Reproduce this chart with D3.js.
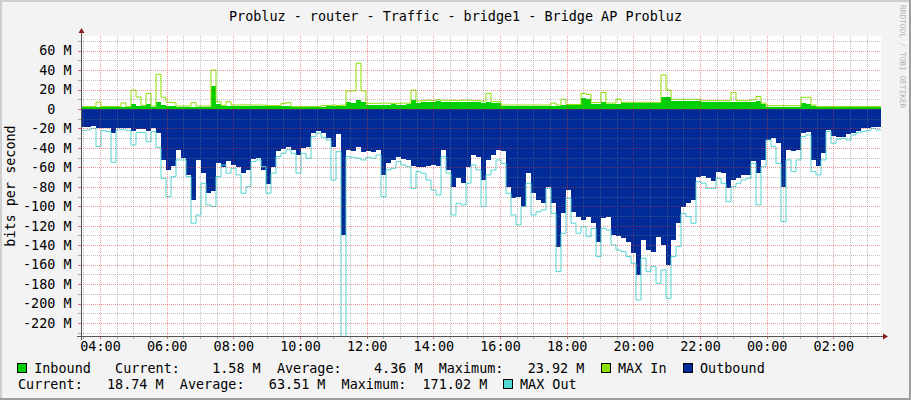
<!DOCTYPE html>
<html><head><meta charset="utf-8">
<script src="https://cdn.jsdelivr.net/npm/d3@7/dist/d3.min.js"></script>
<style>
html,body{margin:0;padding:0;background:#f3f3f3;}
svg{display:block;font-family:"DejaVu Sans Mono",monospace;}
</style></head><body>
<svg id="c" width="911" height="400"></svg>
<script>
// ---- data (values in M bits/s, one value per 9-minute step, 160 steps = 24 h) ----
const titleText = "Probluz - router - Traffic - bridge1 - Bridge AP Probluz";
const yAxisTitle = "bits per second";
const xTickLabels = ["04:00","06:00","08:00","10:00","12:00","14:00","16:00","18:00","20:00","22:00","00:00","02:00"];
const yTickValues = [60,40,20,0,-20,-40,-60,-80,-100,-120,-140,-160,-180,-200,-220];
const seriesNames = ["Inbound","MAX In","Outbound","MAX Out"];
const inStats = [1.58, 4.36, 23.92];
const outStats = [18.74, 63.51, 171.02];

const inbound = [
 2.0,2.0,2.0,2.4,2.0,2.0,2.0,2.0,2.2,2.0,
 5,3,3,5.5,2.5,6.8,4,3.5,3,2.5,
 2.5,2.5,2.5,2.5,2.5,2.5,23.92,5.5,3,3,
 3.2,3.4,3.5,3.5,3.2,3,3,2.8,2.8,2.8,
 2.8,2.8,2,2,2,2,2,2,2.5,2.8,
 3,2.8,3,6.8,6.5,9,7,4.5,4.2,4.5,
 4.3,4.5,4.6,4.4,4.5,5,9,6.5,7,7.5,
 7,8,7.5,7,7.5,7,7.2,7,6.8,7,
 6.5,7,6,6,3.4,3.4,3.5,3.4,3.4,3.5,
 3.4,3.4,3.5,3.5,3.5,3.5,4.5,3.8,3.8,3.8,
 11,10,5,5,7.5,5,5,5,5.8,5.8,
 6,5.8,5.8,6,5.8,5.8,12.3,12,8.5,8.5,
 8.5,8.5,8.2,8.5,7.5,7.5,7.5,7.5,7.5,7.5,
 7.5,7.5,7.5,7.5,7.5,8.5,5,2.4,2.4,2.4,
 2.4,2.4,2.4,2.4,6,5,3.5,1.7,1.7,1.7,
 1.7,1.7,1.7,1.7,1.7,1.7,1.7,1.7,1.6,1.58];

const maxIn = [
 2.4,2.4,2.4,7,2.5,2.5,2.5,2.5,6.2,2.4,
 19.5,12.3,3.5,16,3,35.6,12,7,6.5,3,
 3,3,6.5,3,3,3,40,7.5,3.5,7.5,
 4,4,4.2,4.2,4,4,4,3.4,3.4,3.4,
 5.5,6.5,2.4,2.4,2.4,2.4,2.4,2.4,3.5,3.5,
 4,3.5,4,18.5,18.5,47,18.5,5.8,5.8,5.8,
 6,6,5.8,5.8,6,6,19.5,8,8.5,9,
 8.5,9.5,9,8.5,9,8.5,9,9,8.5,8.5,
 8,16,7.5,7.5,4,4,4,4,4,4,
 4,4,4,4,6,4,10,4.5,4.5,4.5,
 16,15,6.5,6.5,17,6,6,10,6.8,6.8,
 6.8,6.8,6.8,6.8,6.8,6.8,35,19.5,9.9,9.9,
 9.9,9.9,9.9,9.9,8.5,8.5,8.5,8.5,8.5,8.5,
 17,8.5,8.5,8.5,9.3,12.8,6,3.4,3.4,3.4,
 3.4,3.4,3.4,3.4,12,12,4,2.4,2.4,2.4,
 2.4,2.4,2.4,2.4,2.4,2.4,2.4,2.4,2.4,2.4];

const outbound = [
 18.2,18.2,17.5,19.9,19.2,19.9,24.3,19.2,19.2,19.9,
 22.3,20.6,20.9,22.3,19.2,25,52,62.7,58.6,42,
 50.7,67.8,93.6,52.4,66,86.7,84,55.9,59.3,54,
 57.6,59.3,66,62.7,51.7,50.7,62.7,77,59.3,42.8,
 41.5,39.4,42,47.3,40.4,39.4,25,22.3,24.3,30.2,
 38.7,25.7,129.5,42,42.8,39.4,43.9,42.8,43.9,42,
 67.8,55.9,52.4,49,51.4,52.4,58.6,59.3,59.3,58.6,
 57.9,58.6,42,62.7,79.8,71.3,76.4,59.3,47.3,49,
 73,52.4,47.3,42,42.8,79.8,91.8,90,100.4,66,
 86.7,93.6,97,79.8,97,141.5,107.3,83.3,105.6,110.7,
 114,110.7,117.5,136.4,112.4,110.7,129.5,130.6,133,136.4,
 148.4,171.02,134.7,145,146.7,131.3,139.8,160.4,134.7,117.5,
 100.4,97,93.6,69.6,68.9,71.3,73.7,64.4,66,81.6,
 73,71.3,67.8,67.8,54,66,52.4,31.9,30.2,35.3,
 79.8,42,42.8,42,24.3,23.3,52.4,58.6,45.6,21.6,
 27.8,29.1,28.4,25.7,24.3,22.3,19.9,19.2,18.2,18.74];

const maxOut = [
 22.3,21.6,19.9,38.7,22.3,23.3,54.8,21.6,20.9,22.3,
 37,24.3,24.3,33.6,23.3,39.4,71.3,90.1,69.6,52.4,
 52.4,69.6,117.5,109,76.4,98.7,100.4,69.6,57.6,66,
 61,67.8,86.7,79.8,54,52.4,59.3,86.7,66,49,
 45.6,42,45.6,66,45.6,50.7,28.4,25,29.1,31.9,
 73,43.9,260,49,49.7,50.7,52.4,49.7,50.7,47.3,
 90.1,62.7,61,54,57.6,59.3,81.6,64.4,66,73,
 83.3,88.4,49,66,109,97,98.7,76.4,57.6,62.7,
 100.4,67.8,62.7,52.4,55.9,86.7,109,119.3,100.4,76.4,
 109,105.6,103.8,81.6,107.3,167.2,127.8,91.8,117.5,127.8,
 121,131.3,122.7,151.8,122.7,124.4,139.8,145,146.7,151.8,
 158.7,196.4,153.5,167.2,162,179.2,165.5,194.6,151.8,141.5,
 107.3,110.7,117.5,74.7,76.4,81.6,81.6,71.3,76.4,95.3,
 79.8,76.4,73,71.3,55.9,98.7,59.3,31.9,38.7,55.9,
 115.8,52.4,64.4,52.4,28.4,26.7,64.4,67.8,52.4,23.3,
 35.3,31.2,30.2,31.9,26.7,24.3,23.3,22.3,19.9,21.6];

// ---- layout ----
const W = 911, H = 400;
const PL = 81, PR = 881, PT = 36, PB = 336;
const CW = 8.1;               // monospace char width
const FONT = 13.45;
const start = new Date(2020, 0, 1, 3, 25, 48);
const end = new Date(start.getTime() + 24*3600*1000);
const stepMs = 9*60*1000;

const x = d3.scaleTime().domain([start, end]).range([PL, PR]);
const y = d3.scaleLinear().domain([-233.4, 75]).range([PB, PT]);

const svg = d3.select("#c");

// background + 3D frame
svg.append("rect").attr("width", W).attr("height", H).attr("fill", "#f3f3f3");
svg.append("rect").attr("x",0).attr("y",0).attr("width",W).attr("height",2).attr("fill","#cfcfcf");
svg.append("rect").attr("x",0).attr("y",0).attr("width",2).attr("height",H).attr("fill","#cfcfcf");
svg.append("rect").attr("x",0).attr("y",H-2).attr("width",W).attr("height",2).attr("fill","#9e9e9e");
svg.append("rect").attr("x",W-2).attr("y",0).attr("width",2).attr("height",H).attr("fill","#9e9e9e");

// plot canvas
svg.append("rect").attr("x", PL).attr("y", PT).attr("width", PR-PL).attr("height", PB-PT).attr("fill", "#ffffff");

svg.append("clipPath").attr("id","clip").append("rect")
  .attr("x", PL).attr("y", PT).attr("width", PR-PL).attr("height", PB-PT);

const tAt = i => new Date(start.getTime() + i*stepMs);
function ext(arr){ const a = arr.map((v,i)=>({t:tAt(i), v})); a.push({t:end, v:arr[arr.length-1]}); return a; }

const g = svg.append("g").attr("clip-path","url(#clip)");

const areaOut = d3.area().curve(d3.curveStepAfter).x(d=>x(d.t)).y0(y(0)).y1(d=>y(-d.v));
const areaIn  = d3.area().curve(d3.curveStepAfter).x(d=>x(d.t)).y0(y(0)).y1(d=>y(d.v));
const lineOut = d3.line().curve(d3.curveStepAfter).x(d=>x(d.t)).y(d=>y(-d.v));
const lineIn  = d3.line().curve(d3.curveStepAfter).x(d=>x(d.t)).y(d=>y(d.v));

g.append("path").datum(ext(outbound)).attr("d", areaOut).attr("fill", "#002a97").attr("shape-rendering","crispEdges");
g.append("path").datum(ext(inbound)).attr("d", areaIn).attr("fill", "#00cf00").attr("shape-rendering","crispEdges");
g.append("path").datum(ext(maxIn)).attr("d", lineIn).attr("fill","none").attr("stroke","#8be000").attr("stroke-width",1);
g.append("path").datum(ext(maxOut)).attr("d", lineOut).attr("fill","none").attr("stroke","#55d6d3").attr("stroke-width",1);

// grid (drawn over data, semi-transparent, dotted)
const minorCol = "rgba(120,120,120,0.45)";
const majorCol = "rgba(225,50,50,0.5)";
const grid = svg.append("g").attr("shape-rendering","crispEdges");
const hVals = d3.range(-230, 80, 10);
hVals.forEach(v => {
  const yy = Math.round(y(v)) + 0.5;
  const major = v % 20 === 0;
  grid.append("line").attr("x1", PL).attr("x2", PR).attr("y1", yy).attr("y2", yy)
    .attr("stroke", major ? majorCol : minorCol).attr("stroke-dasharray","1,1");
  grid.append("line").attr("x1", PL-3).attr("x2", PL).attr("y1", yy).attr("y2", yy)
    .attr("stroke", major ? "rgba(200,60,60,0.7)" : "rgba(120,120,120,0.6)");
});
const vVals = d3.timeMinute.every(30).range(start, end);
vVals.forEach(t => {
  const xx = Math.round(x(t)) + 0.5;
  const major = t.getMinutes() === 0 && t.getHours() % 2 === 0;
  grid.append("line").attr("x1", xx).attr("x2", xx).attr("y1", PT).attr("y2", PB)
    .attr("stroke", major ? majorCol : minorCol).attr("stroke-dasharray","1,1");
  grid.append("line").attr("x1", xx).attr("x2", xx).attr("y1", PB).attr("y2", PB+3)
    .attr("stroke", major ? "rgba(200,60,60,0.7)" : "rgba(120,120,120,0.6)");
});

// axes lines + arrows
svg.append("line").attr("x1", PL-4).attr("x2", PR+4).attr("y1", PB+0.5).attr("y2", PB+0.5)
  .attr("stroke","#555").attr("shape-rendering","crispEdges");
svg.append("line").attr("x1", PL+0.5).attr("x2", PL+0.5).attr("y1", PB+4).attr("y2", PT-4)
  .attr("stroke","#555").attr("shape-rendering","crispEdges");
svg.append("path").attr("d", `M${PR+2},${PB-2.5} L${PR+7},${PB+0.5} L${PR+2},${PB+3.5} Z`).attr("fill","#8b1a1a");
svg.append("path").attr("d", `M${PL-2.5},${PT-3} L${PL+0.5},${PT-8} L${PL+3.5},${PT-3} Z`).attr("fill","#8b1a1a");

// y axis labels via d3 axis
const yAxis = d3.axisLeft(y).tickValues(yTickValues).tickSize(0).tickPadding(PL - 71.5)
  .tickFormat(v => v === 0 ? "0\u00a0\u00a0" : `${v} M`);
const ya = svg.append("g").attr("transform", `translate(${PL},0)`).call(yAxis);
ya.select(".domain").remove();
ya.selectAll("text").attr("font-family","DejaVu Sans Mono").attr("font-size", FONT).attr("fill","#000");

// x axis labels via d3 axis
const xTickDates = xTickLabels.map(s => {
  const h = +s.slice(0,2), m = +s.slice(3,5);
  return new Date(2020, 0, h < 3 ? 2 : 1, h, m);
});
const xAxis = d3.axisBottom(x).tickValues(xTickDates).tickSize(0).tickPadding(5.5)
  .tickFormat((d,i) => xTickLabels[i]);
const xa = svg.append("g").attr("transform", `translate(0,${PB})`).call(xAxis);
xa.select(".domain").remove();
xa.selectAll("text").attr("font-family","DejaVu Sans Mono").attr("font-size", FONT).attr("fill","#000");

// title
svg.append("text").attr("x", 455.5).attr("y", 21).attr("text-anchor","middle")
  .attr("font-size", FONT).attr("fill","#000").text(titleText);

// y axis title
svg.append("text").attr("transform", `translate(15,186) rotate(-90)`).attr("text-anchor","middle")
  .attr("font-size", FONT).attr("fill","#000").text(yAxisTitle);

// watermark
svg.append("text").attr("transform", `translate(900,5) rotate(90)`).attr("font-size", 7.8)
  .attr("fill","#b4b4b4").attr("font-family","DejaVu Sans Mono").text("RRDTOOL / TOBI OETIKER");

// legend
const f = v => v.toFixed(2).padStart(8, " ");
const X0 = 18;
const lx = col => X0 + col*CW;
function ltext(xx, yy, s){
  svg.append("text").attr("x", xx).attr("y", yy).attr("font-size", FONT).attr("fill","#000")
    .attr("xml:space","preserve").style("white-space","pre").text(s);
}
function lbox(xx, yy, col){
  svg.append("rect").attr("x", xx+0.5).attr("y", yy+0.5).attr("width", 9).attr("height", 9)
    .attr("fill", col).attr("stroke","#000").attr("stroke-width",1).attr("shape-rendering","crispEdges");
}
const L1 = 373, L2 = 389;
const line1 = `${seriesNames[0]}   Current:${f(inStats[0])} M  Average:${f(inStats[1])} M  Maximum:${f(inStats[2])} M`;
lbox(17, 363, "#00cf00");
ltext(lx(2), L1, line1);
lbox(601, 363, "#8be000");
ltext(618, L1, seriesNames[1]);
lbox(683, 363, "#002a97");
ltext(700, L1, seriesNames[2]);
const line2 = `Current:${f(outStats[0])} M  Average:${f(outStats[1])} M  Maximum:${f(outStats[2])} M`;
ltext(lx(0), L2, line2);
lbox(503, 379, "#55d6d3");
ltext(520, L2, seriesNames[3]);
</script>
</body></html>
